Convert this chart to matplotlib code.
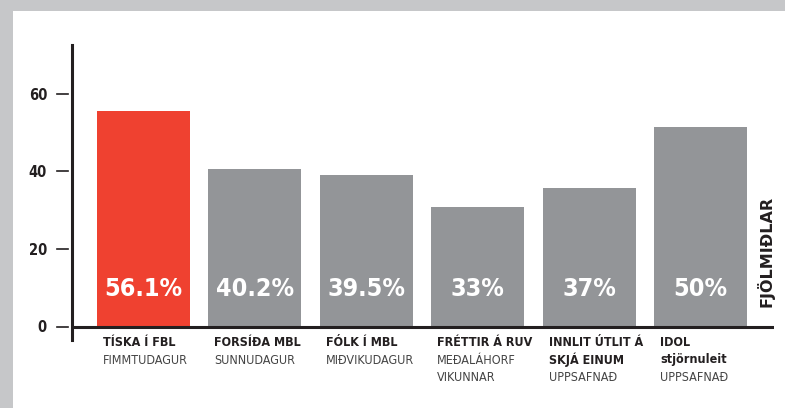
import matplotlib
matplotlib.use('Agg')
import matplotlib.pyplot as plt
from matplotlib.patches import Rectangle
from matplotlib.transforms import blended_transform_factory

# values (bar heights) and the printed labels
bar_heights = [55.7, 40.7, 39.2, 30.9, 35.7, 51.4]
pct_labels = ['56.1%', '40.2%', '39.5%', '33%', '37%', '50%']
bold_lines = [
    ['TÍSKA Í FBL'],
    ['FORSÍÐA MBL'],
    ['FÓLK Í MBL'],
    ['FRÉTTIR Á RUV'],
    ['INNLIT ÚTLIT Á', 'SKJÁ EINUM'],
    ['IDOL', 'stjörnuleit'],
]
sub_lines = [
    ['FIMMTUDAGUR'],
    ['SUNNUDAGUR'],
    ['MIÐVIKUDAGUR'],
    ['MEÐALÁHORF', 'VIKUNNAR'],
    ['UPPSAFNAÐ'],
    ['UPPSAFNAÐ'],
]
y_ticks = [0, 20, 40, 60]
side_label = 'FJÖLMIÐLAR'

RED = '#ef4130'
GREY = '#939598'
BORDER = '#c6c7c9'
INK = '#231f20'

plt.rcParams['font.family'] = ['DejaVu Sans']

W, H = 785, 408
fig = plt.figure(figsize=(W / 100, H / 100), dpi=100, facecolor=BORDER)
fig.patches.append(Rectangle((13 / W, 0), 1, 1 - 11 / H, transform=fig.transFigure,
                             facecolor='white', edgecolor='none', zorder=-10))

# axes placed in pixels: spine at x=72, right end 774, top 45, bottom 340
ax = fig.add_axes([72 / W, (H - 340) / H, (774 - 72) / W, (340 - 45) / H])
ax.set_zorder(1)
ax.set_facecolor('none')
period = 111.4
ax.set_xlim((72 - 143.5) / period, (774 - 143.5) / period)
px_per_unit = 3.875
ax.set_ylim(-(340 - 326.5) / px_per_unit, (326.5 - 45) / px_per_unit)

n = len(bar_heights)
xs = list(range(n))
colors = [RED] + [GREY] * (n - 1)
width = 93 / period
ax.bar(xs, bar_heights, width=width, color=colors, zorder=2)
ax.axhline(0, color=INK, lw=2.2, zorder=3)

for s in ['top', 'right', 'bottom']:
    ax.spines[s].set_visible(False)
ax.spines['left'].set_linewidth(2.2)
ax.spines['left'].set_color(INK)
ax.set_xticks([])
ax.set_yticks(y_ticks)
ax.set_yticklabels([str(t) for t in y_ticks], fontsize=10.5, fontweight='bold',
                   fontstretch='condensed', color=INK)
ax.tick_params(axis='y', length=0, pad=18)

# detached tick dashes
tr = blended_transform_factory(ax.transAxes, ax.transData)
x0 = (57 - 72) / (774 - 72)
x1 = (68 - 72) / (774 - 72)
for t in y_ticks:
    ax.plot([x0, x1], [t, t], color=INK, lw=1.2, transform=tr, clip_on=False)

for i in xs:
    ax.annotate(pct_labels[i], xy=(i, 0), xytext=(0, 37 * 0.72), textcoords='offset points',
                ha='center', va='center', color='white', fontsize=18, fontweight='bold',
                fontstretch='condensed', zorder=4)
    left = i - width / 2
    k = 0
    for line in bold_lines[i]:
        ax.annotate(line, xy=(left, 0), xytext=(6 * 0.72, -(16 + 17.5 * k) * 0.72),
                    textcoords='offset points', ha='left', va='center', fontsize=9,
                    fontweight='bold', fontstretch='condensed', color=INK,
                    annotation_clip=False)
        k += 1
    for line in sub_lines[i]:
        ax.annotate(line, xy=(left, 0), xytext=(6 * 0.72, -(16 + 17.5 * k) * 0.72),
                    textcoords='offset points', ha='left', va='center', fontsize=9,
                    fontstretch='condensed', color='#444444', annotation_clip=False)
        k += 1

fig.text(765 / W, (H - 251) / H, side_label, rotation=90, ha='center', va='center',
         fontsize=11.5, fontweight='bold', color=INK)

fig.savefig('out.png', dpi=100, facecolor=BORDER)
